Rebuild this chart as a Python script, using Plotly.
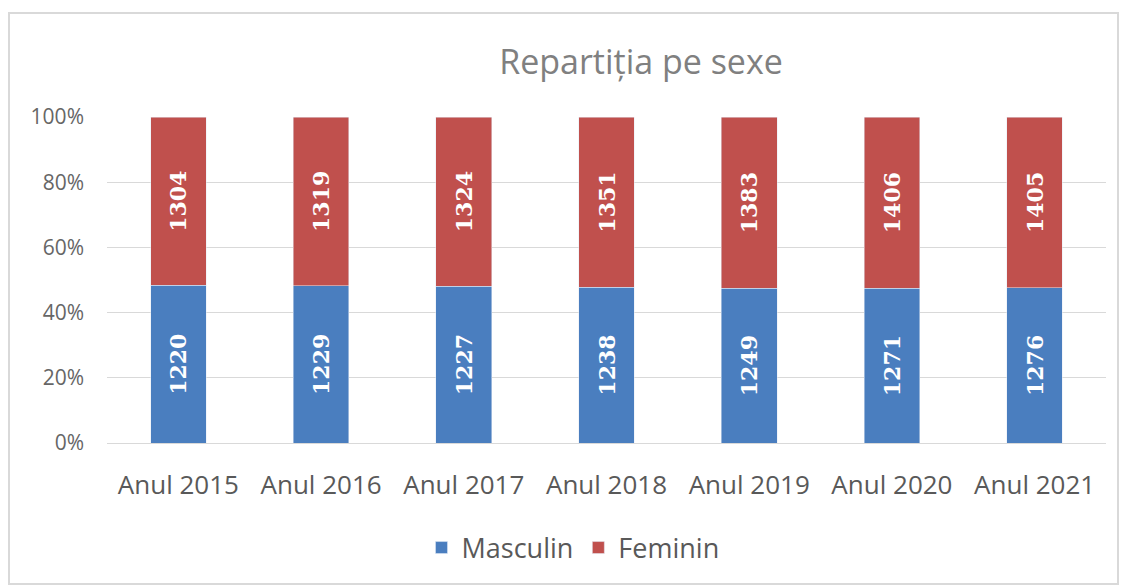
import plotly.graph_objects as go

categories = ["Anul 2015", "Anul 2016", "Anul 2017", "Anul 2018", "Anul 2019", "Anul 2020", "Anul 2021"]
masculin = [1220, 1229, 1227, 1238, 1249, 1271, 1276]
feminin = [1304, 1319, 1324, 1351, 1383, 1406, 1405]
y_ticks = [0, 20, 40, 60, 80, 100]
y_tick_labels = ["0%", "20%", "40%", "60%", "80%", "100%"]

OFF = 8  # default body margin of the html page
W, H = 1128 - OFF, 586 - OFF
L, T = 107 - OFF, 117 - OFF
R = W - (1106 - OFF)
B = H - (443 - OFF)
pw, ph = W - L - R, H - T - B

def px_x(x):
    return (x - OFF - L) / pw

def px_y(y):
    return (H - B - (y - OFF)) / ph

FONT = "Open Sans, Liberation Sans, sans-serif"
label_font = dict(family="DejaVu Serif, serif", size=22, color="white")

fig = go.Figure()
fig.add_trace(go.Bar(
    name="Masculin", x=categories, y=masculin, marker_color="#4A7EBF",
    text=[str(v) for v in masculin], textposition="inside", textangle=-90,
    insidetextanchor="middle", insidetextfont=label_font, texttemplate="<b>%{text}</b>",
))
fig.add_trace(go.Bar(
    name="Feminin", x=categories, y=feminin, marker_color="#C0504D",
    text=[str(v) for v in feminin], textposition="inside", textangle=-90,
    insidetextanchor="middle", insidetextfont=label_font, texttemplate="<b>%{text}</b>",
))

fig.update_layout(
    width=W, height=H,
    margin=dict(l=L, r=R, t=T, b=B),
    barmode="stack", barnorm="percent", bargap=0.61,
    paper_bgcolor="white", plot_bgcolor="white",
    font=dict(family=FONT, color="#595959"),
    title=dict(text="Repartiția pe sexe", x=(641 - OFF) / W, xanchor="center",
               y=1 - (62 - OFF) / H, yanchor="middle", yref="container",
               font=dict(size=34, color="#808080")),
    showlegend=True,
    legend=dict(orientation="h", x=px_x(573), xanchor="center", y=px_y(548), yanchor="middle",
                font=dict(size=27, color="#595959"), traceorder="normal"),
    shapes=[dict(type="rect", xref="paper", yref="paper",
                 x0=px_x(9), x1=px_x(1118), y0=px_y(584), y1=px_y(13),
                 line=dict(color="#D9D9D9", width=2), layer="below")],
)
fig.update_xaxes(showgrid=False, showline=True, linecolor="#D9D9D9", ticks="",
                 tickfont=dict(size=26, color="#595959"), ticklabelstandoff=19)
fig.update_yaxes(range=[0, 100], tickvals=y_ticks, ticktext=y_tick_labels,
                 showgrid=True, gridcolor="#D9D9D9", zeroline=False,
                 tickfont=dict(size=21, color="#666666"), ticklen=0, ticklabelstandoff=22)

fig.write_html("out.html")
